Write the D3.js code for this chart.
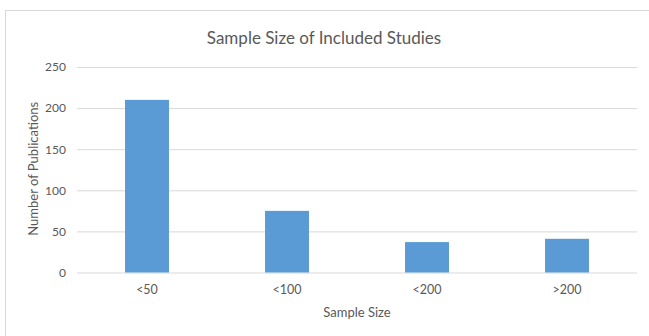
<!DOCTYPE html>
<html>
<head>
<meta charset="utf-8">
<script src="https://cdn.jsdelivr.net/npm/d3@7/dist/d3.min.js"></script>
<style>
  html, body { margin: 0; padding: 0; background: #fff; }
  svg { display: block; font-family: Lato, "Open Sans", sans-serif; }
</style>
</head>
<body>
<svg id="chart" width="649" height="336"></svg>
<script>
// Publication counts by sample-size group
const categories = ["<50", "<100", "<200", ">200"];
const publications = [210, 75, 37, 41];
const yTicks = [0, 50, 100, 150, 200, 250];

const svg = d3.select("#chart");
const plot = { left: 77, right: 637, top: 67, bottom: 272.5 };
const textColor = "#595959";
const fontStack = "Lato, 'Open Sans', sans-serif";

// Chart frame
svg.append("rect")
  .attr("x", 5.5).attr("y", 10.5)
  .attr("width", 660).attr("height", 340)
  .attr("fill", "#fff").attr("stroke", "#d9d9d9");

const x = d3.scaleBand()
  .domain(categories)
  .range([plot.left, plot.right])
  .paddingInner(0.686)
  .paddingOuter(0.343);

const y = d3.scaleLinear()
  .domain([0, 250])
  .range([plot.bottom, plot.top]);

// Horizontal gridlines and value labels
const yAxis = d3.axisLeft(y)
  .tickValues(yTicks)
  .tickSize(-(plot.right - plot.left))
  .tickPadding(11);

const gy = svg.append("g")
  .attr("transform", `translate(${plot.left},0)`)
  .call(yAxis);
gy.select(".domain").remove();
gy.selectAll(".tick line").attr("stroke", "#d9d9d9").attr("stroke-width", 1);
gy.selectAll(".tick text")
  .attr("fill", textColor)
  .style("font-size", "12px")
  .style("font-family", fontStack);

// Bars
svg.append("g")
  .selectAll("rect")
  .data(categories)
  .join("rect")
  .attr("x", d => x(d))
  .attr("y", (d, i) => y(publications[i]))
  .attr("width", x.bandwidth())
  .attr("height", (d, i) => y(0) - y(publications[i]))
  .attr("fill", "#5b9bd5");

// Category labels
const xAxis = d3.axisBottom(x).tickSize(0).tickPadding(13);
const gx = svg.append("g")
  .attr("transform", `translate(0,${plot.bottom})`)
  .call(xAxis);
gx.select(".domain").remove();
gx.selectAll(".tick text")
  .attr("fill", textColor)
  .style("font-size", "12.5px")
  .style("font-family", fontStack);

// Title
svg.append("text")
  .attr("x", 324).attr("y", 44)
  .attr("text-anchor", "middle")
  .attr("fill", textColor)
  .style("font-size", "17px")
  .text("Sample Size of Included Studies");

// Axis titles
svg.append("text")
  .attr("x", (plot.left + plot.right) / 2).attr("y", 317)
  .attr("text-anchor", "middle")
  .attr("fill", textColor)
  .style("font-size", "13px")
  .text("Sample Size");

svg.append("text")
  .attr("transform", `translate(38,${(plot.top + plot.bottom) / 2 - 1}) rotate(-90)`)
  .attr("text-anchor", "middle")
  .attr("fill", textColor)
  .style("font-size", "13px")
  .text("Number of Publications");
</script>
</body>
</html>
